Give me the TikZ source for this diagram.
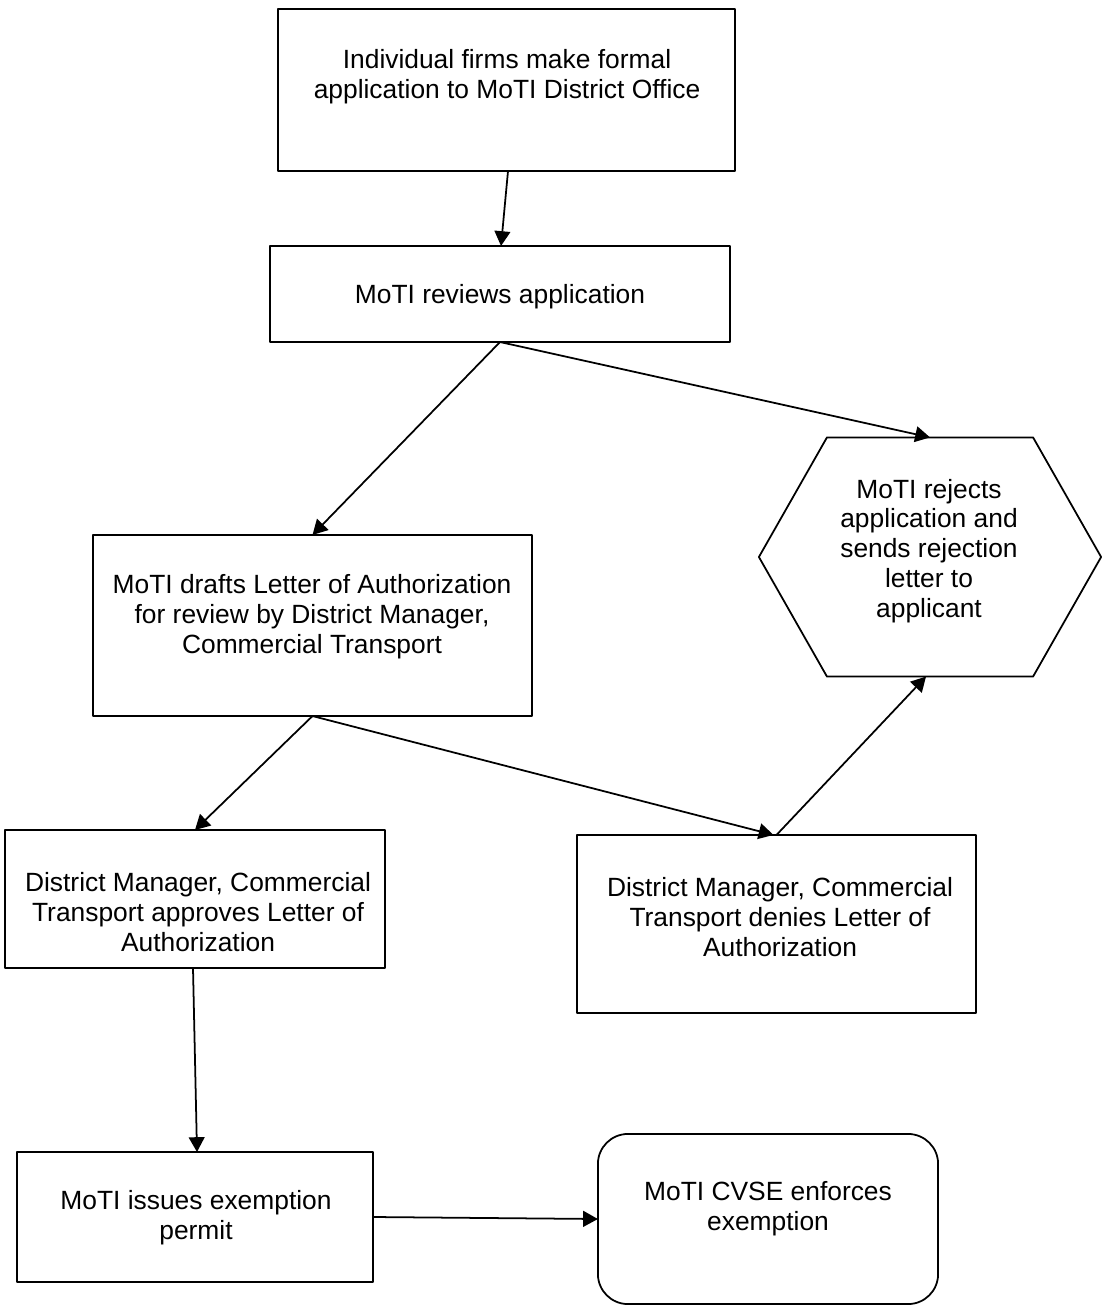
\documentclass[tikz,border=0pt]{standalone}
\usepackage{fontspec}
\setmainfont{Liberation Sans}
\usetikzlibrary{arrows.meta}
\begin{document}
\begin{tikzpicture}[x=0.01cm,y=-0.01cm,>={Triangle[length=4.2pt,width=4.5pt]},line join=round,
    font=\fontsize{7.5}{8.5}\selectfont,
    box/.style={draw,line width=0.5pt,inner sep=0pt,outer sep=0pt},
    txt/.style={align=center,inner sep=0pt},
    link/.style={->,line width=0.5pt}]
    \useasboundingbox (0,0) rectangle (1102,1310);
    % Khung
    \node[box,minimum width=4.57cm,minimum height=1.62cm] (firms) at (506.5,90) {};
    \node[box,minimum width=4.60cm,minimum height=0.96cm] (reviews) at (500,294) {};
    \node[inner sep=0pt,outer sep=0pt,minimum width=3.42cm,minimum height=2.39cm] (reject) at (930,557) {};
    \draw[line width=0.5pt] (reject.west) -- ([xshift=6.8mm]reject.north west) -- ([xshift=-6.8mm]reject.north east)
        -- (reject.east) -- ([xshift=-6.8mm]reject.south east) -- ([xshift=6.8mm]reject.south west) -- cycle;
    \node[box,minimum width=4.39cm,minimum height=1.81cm] (draft) at (312.5,625.5) {};
    \node[box,minimum width=3.80cm,minimum height=1.38cm] (approve) at (195,899) {};
    \node[box,minimum width=3.99cm,minimum height=1.78cm] (deny) at (776.5,924) {};
    \node[box,minimum width=3.56cm,minimum height=1.30cm] (issues) at (195,1217) {};
    \node[box,rounded corners=0.3cm,minimum width=3.40cm,minimum height=1.70cm] (cvse) at (768,1219) {};
    % Chữ
    \node[txt] (firmsText) at (507,77) {Individual firms make formal\\application to MoTI District Office};
    \node[txt] (reviewsText) at (500,297) {MoTI reviews application};
    \node[txt] (rejectText) at (929,551) {MoTI rejects\\application and\\sends rejection\\letter to\\applicant};
    \node[txt] (draftText) at (312,617) {MoTI drafts Letter of Authorization\\for review by District Manager,\\Commercial Transport};
    \node[txt] (approveText) at (198,912) {District Manager, Commercial\\Transport approves Letter of\\Authorization};
    \node[txt] (denyText) at (780,917) {District Manager, Commercial\\Transport denies Letter of\\Authorization};
    \node[txt] (issuesText) at (196,1218) {MoTI issues exemption\\permit};
    \node[txt] (cvseText) at (768,1209) {MoTI CVSE enforces\\exemption};
    % Mũi tên
    \draw[link] ([xshift=0.15mm]firms.south) -- ([xshift=0.1mm]reviews.north);
    \draw[link] (reviews.south) -- (draft.north);
    \draw[link] (reviews.south) -- (reject.north);
    \draw[link] (draft.south) -- (approve.north);
    \draw[link] (draft.south) -- ([xshift=-0.3mm]deny.north);
    \draw[link] (deny.north) -- ([xshift=-0.4mm]reject.south);
    \draw[link] ([xshift=-0.2mm]approve.south) -- ([xshift=0.2mm]issues.north);
    \draw[link] (issues.east) -- (cvse.west);
\end{tikzpicture}
\end{document}
